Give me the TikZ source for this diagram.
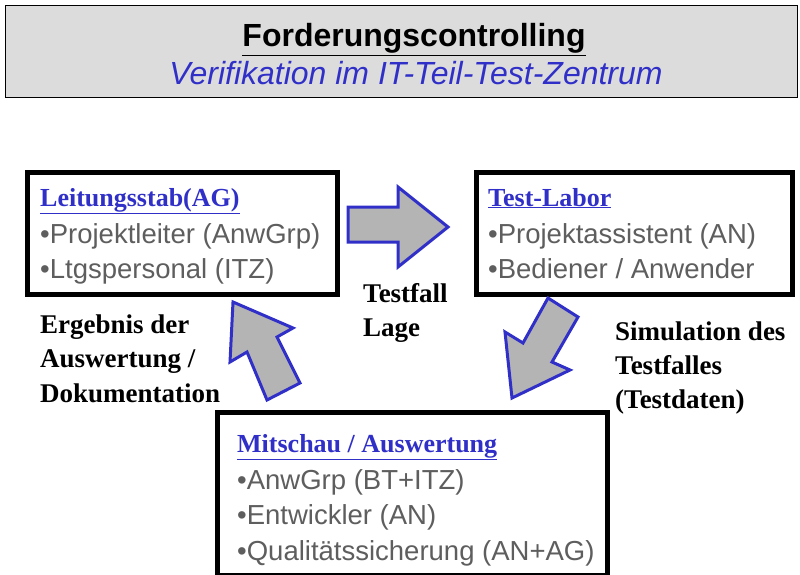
\documentclass[tikz,border=0pt]{standalone}
\usepackage{fontspec}
\setmainfont{Liberation Serif}
\setsansfont{Liberation Sans}
\definecolor{hblue}{HTML}{3030C8}
\definecolor{agray}{HTML}{B4B4B4}
\definecolor{tgray}{HTML}{5E5E5E}
\definecolor{tfill}{HTML}{DCDCDC}
\tikzset{
  boxst/.style={draw=black, line width=4.5pt, fill=white, inner sep=0pt, anchor=north west},
  headst/.style={anchor=base west, inner sep=0pt, text=hblue, font=\rmfamily\bfseries\fontsize{26}{30}\selectfont},
  itemst/.style={anchor=base west, inner sep=0pt, text=tgray, font=\sffamily\fontsize{27.5}{33}\selectfont},
  labst/.style={anchor=base west, inner sep=0pt, text=black, font=\rmfamily\bfseries\fontsize{27}{32}\selectfont},
  blockarrow/.style={draw=hblue, line width=3pt, fill=agray, line join=miter}
}
\begin{document}
\begin{tikzpicture}[x=1pt,y=-1pt]
\useasboundingbox (0,0) rectangle (800,575);
% title
\node[draw=black, line width=1pt, fill=tfill, anchor=north west, minimum width=792pt, minimum height=92pt, inner sep=0pt] (title) at (5,5) {};
\node[anchor=base, inner sep=0pt, font=\sffamily\bfseries\fontsize{32}{36}\selectfont] (t1) at (414,47) {\underline{Forderungscontrolling}};
\node[anchor=base, inner sep=0pt, text=hblue, font=\sffamily\itshape\fontsize{32}{36}\selectfont] (t2) at (416,85) {Verifikation im IT-Teil-Test-Zentrum};
% boxes
\node[boxst, minimum width=310pt, minimum height=122pt] (lei) at (25,170) {};
\node[headst] (lei1) at (40,206) {\underline{Leitungsstab(AG)}};
\node[itemst] (lei2) at (40,243) {•Projektleiter (AnwGrp)};
\node[itemst] (lei3) at (40,278) {•Ltgspersonal (ITZ)};
\node[boxst, minimum width=316pt, minimum height=122pt] (lab) at (474,170) {};
\node[headst] (lab1) at (488,206) {\underline{Test-Labor}};
\node[itemst] (lab2) at (488,243) {•Projektassistent (AN)};
\node[itemst] (lab3) at (488,278) {•Bediener / Anwender};
\node[boxst, minimum width=390pt, minimum height=163pt] (mit) at (215,410) {};
\node[headst] (mit1) at (237,452) {\underline{Mitschau / Auswertung}};
\node[itemst] (mit2) at (237,489) {•AnwGrp (BT+ITZ)};
\node[itemst] (mit3) at (237,524) {•Entwickler (AN)};
\node[itemst] (mit4) at (237,560) {•Qualitätssicherung (AN+AG)};
% block arrows
\draw[blockarrow] (348,207) -- (398,207) -- (398,187) -- (448,227) -- (398,267) -- (398,242) -- (348,242) -- cycle;
\draw[blockarrow] (548,298) -- (578,317) -- (552,362) -- (570,370) -- (512,398) -- (505,332) -- (523,343) -- cycle;
\draw[blockarrow] (233,302) -- (293,328) -- (277,337) -- (300,383) -- (267,400) -- (247,352) -- (230,362) -- cycle;
% labels
\node[labst] (l1) at (363,302) {Testfall};
\node[labst] (l2) at (363,336) {Lage};
\node[labst] (l3) at (40,333) {Ergebnis der};
\node[labst] (l4) at (40,367) {Auswertung /};
\node[labst] (l5) at (40,402) {Dokumentation};
\node[labst] (l6) at (615,340) {Simulation des};
\node[labst] (l7) at (615,374) {Testfalles};
\node[labst] (l8) at (615,408) {(Testdaten)};
\end{tikzpicture}
\end{document}
